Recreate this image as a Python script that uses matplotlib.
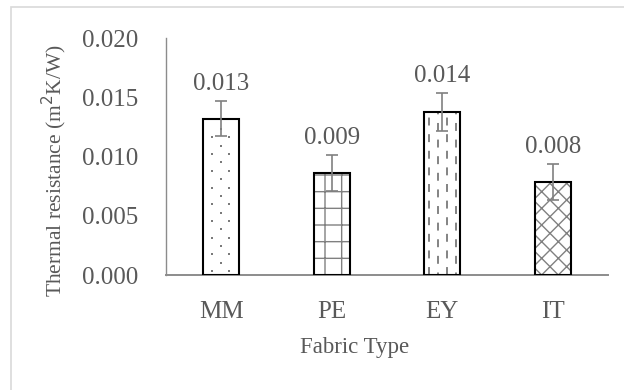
import matplotlib
matplotlib.use("Agg")
import matplotlib.pyplot as plt
from matplotlib.patches import Rectangle
import numpy as np

# Thermal resistance per fabric type (m2K/W)
fabrics = ["MM", "PE", "EY", "IT"]
resistance = [0.0132, 0.0086, 0.01375, 0.00786]
resistance_err = [0.0015, 0.00153, 0.0016, 0.0015]
y_ticks = [0.000, 0.005, 0.010, 0.015, 0.020]

hatches = [None, "+", None, "xx"]
text_col = "#595959"
axis_col = "#8c8c8c"
hatch_col = "#808080"

plt.rcParams["font.family"] = ["Liberation Serif", "DejaVu Serif"]
plt.rcParams["hatch.linewidth"] = 1.0

fig = plt.figure(figsize=(6.24, 3.90), dpi=100)
ax = fig.add_axes([166 / 624, 1 - 275 / 390, (608 - 166) / 624, (275 - 38) / 390])

x = np.arange(len(fabrics))
width = 0.326

ax.set_xlim(-0.5, len(fabrics) - 0.5)
ax.set_ylim(0, 0.020)

# pixel -> data scale (axes box is fixed)
px_x = (len(fabrics)) / 442.0
px_y = 0.020 / 237.0

# hatch layer (edgecolor drives the hatch colour), then black outline on top
fill_bars = ax.bar(x, resistance, width, color="white", edgecolor=hatch_col, linewidth=0, zorder=2)
for b, h in zip(fill_bars, hatches):
    if h:
        b.set_hatch(h)

# MM: small staggered dots
mm = fill_bars[fabrics.index("MM")]
dx, dy = [], []
row = 0
yy = 4 * px_y
while yy < mm.get_height() - 3 * px_y:
    offs = [9, 26] if row % 2 == 0 else [17.5]
    for o in offs:
        dx.append(mm.get_x() + o * px_x)
        dy.append(yy)
    yy += 8.35 * px_y
    row += 1
ax.scatter(dx, dy, s=1.6, marker="s", color="#7a7a7a", linewidths=0, zorder=2.5)

# EY: dashed vertical lines
ey = fill_bars[fabrics.index("EY")]
for k in range(4):
    xx = ey.get_x() + ey.get_width() * (k + 0.5) / 4
    ax.plot([xx, xx], [0, ey.get_height()], color="#7a7a7a", lw=1.3,
            linestyle=(0 if k % 2 == 0 else 3, (4.4, 4.8)), zorder=2.5)

ax.bar(x, resistance, width, fill=False, edgecolor="black", linewidth=1.5, zorder=3)

ax.errorbar(x, resistance, yerr=resistance_err, fmt="none", ecolor=hatch_col,
            elinewidth=1.2, capsize=4, capthick=1.2, zorder=4)

for xi, v, e in zip(x, resistance, resistance_err):
    ax.annotate(f"{v:.3f}", (xi, v + e), xytext=(0, 12), textcoords="offset points",
                ha="center", va="center", fontsize=18, color=text_col)

ax.set_yticks(y_ticks)
ax.set_yticklabels([f"{t:.3f}" for t in y_ticks])
ax.set_xticks(x)
ax.set_xticklabels(fabrics)
ax.tick_params(axis="y", length=0, pad=20, labelsize=18, labelcolor=text_col)
ax.tick_params(axis="x", length=0, pad=19, labelsize=18, labelcolor=text_col)

for s in ["top", "right"]:
    ax.spines[s].set_visible(False)
ax.spines["left"].set_color(axis_col)
ax.spines["left"].set_linewidth(1.0)
ax.spines["bottom"].set_color(axis_col)
ax.spines["bottom"].set_linewidth(1.4)

fig.text(355 / 624, 1 - 348 / 390, "Fabric Type", ha="center", va="center",
         fontsize=16.5, color=text_col)
fig.text(54 / 624, 1 - 171 / 390, "Thermal resistance (m$^2$K/W)", ha="center", va="center",
         rotation=90, fontsize=15.5, color=text_col)

# chart area border (runs off the right and bottom edges)
fig.patches.append(Rectangle((11 / 624, -0.1), 1.2, 1.1 - 7.5 / 390, fill=False,
                             edgecolor="#d9d9d9", linewidth=1.2, transform=fig.transFigure))

fig.savefig("out.png", dpi=100)
